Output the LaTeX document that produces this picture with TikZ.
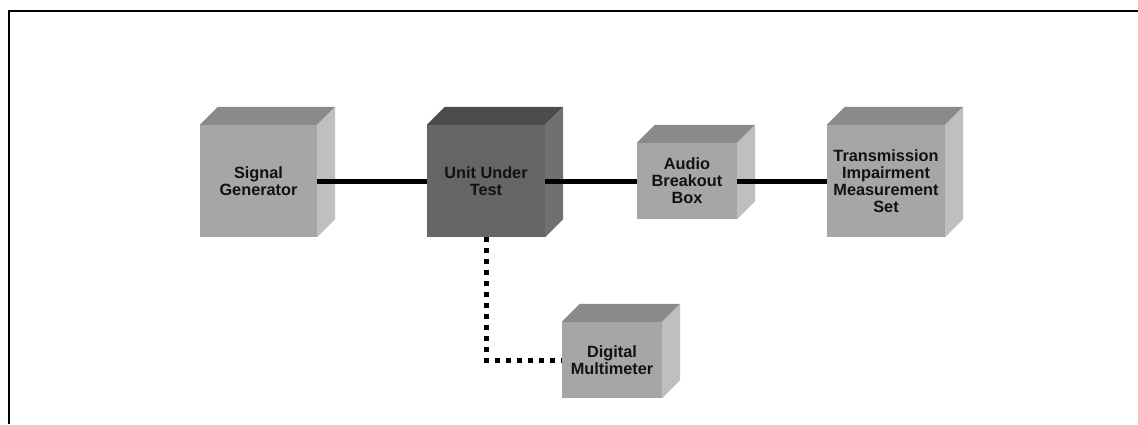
\documentclass[tikz,border=0pt]{standalone}
\usepackage{fontspec}
\setmainfont{Liberation Sans}
\usetikzlibrary{calc}
\begin{document}
\begin{tikzpicture}[x=1pt,y=-1pt,
  face/.style={rectangle, inner sep=0pt, draw=none, align=center,
    font=\fontsize{16.3}{17}\selectfont\bfseries, text=black!93},
  light/.style={face, fill=black!35},
  dark/.style={face, fill=black!60},
  lighttop/.style={fill=black!46},
  lightside/.style={fill=black!25},
  darktop/.style={fill=black!70},
  darkside/.style={fill=black!56},
  link/.style={line width=5pt, black},
  dotlink/.style={line width=5pt, black, dash pattern=on 5pt off 6pt},
  frame/.style={line width=2pt, black}]
% page extent and outer frame
\useasboundingbox (0,0) rectangle (1138,424);
\draw[frame] (1138,10.5) -- (8.5,10.5) -- (8.5,424);

% front faces carry the labels
\node[light, minimum width=117pt, minimum height=112pt] (sg) at (258.5,181) {Signal\\Generator};
\node[dark, minimum width=118pt, minimum height=112pt] (uut) at (486,181) {Unit Under\\Test};
\node[light, minimum width=100pt, minimum height=76pt] (abb) at (687,181) {Audio\\Breakout\\Box};
\node[light, minimum width=118pt, minimum height=112pt] (tims) at (886,181) {Transmission\\Impairment\\Measurement\\Set};
\node[light, minimum width=100pt, minimum height=76pt] (dmm) at (612,360) {Digital\\Multimeter};

% top and right side faces of each cube, built from the front face corners
\newcommand{\cubefaces}[3]{%
  \fill[#2] (#1.north west) -- ++(18,-18) -- ($(#1.north east)+(18,-18)$) -- (#1.north east) -- cycle;
  \fill[#3] (#1.north east) -- ++(18,-18) -- ($(#1.south east)+(18,-18)$) -- (#1.south east) -- cycle;}
\cubefaces{sg}{lighttop}{lightside}
\cubefaces{uut}{darktop}{darkside}
\cubefaces{abb}{lighttop}{lightside}
\cubefaces{tims}{lighttop}{lightside}
\cubefaces{dmm}{lighttop}{lightside}

% signal path
\draw[link] (sg.east) -- (uut.west);
\draw[link] (uut.east) -- (abb.west);
\draw[link] (abb.east) -- (tims.west);
% meter lead
\draw[dotlink] (uut.south) |- (dmm.west);
\end{tikzpicture}
\end{document}
